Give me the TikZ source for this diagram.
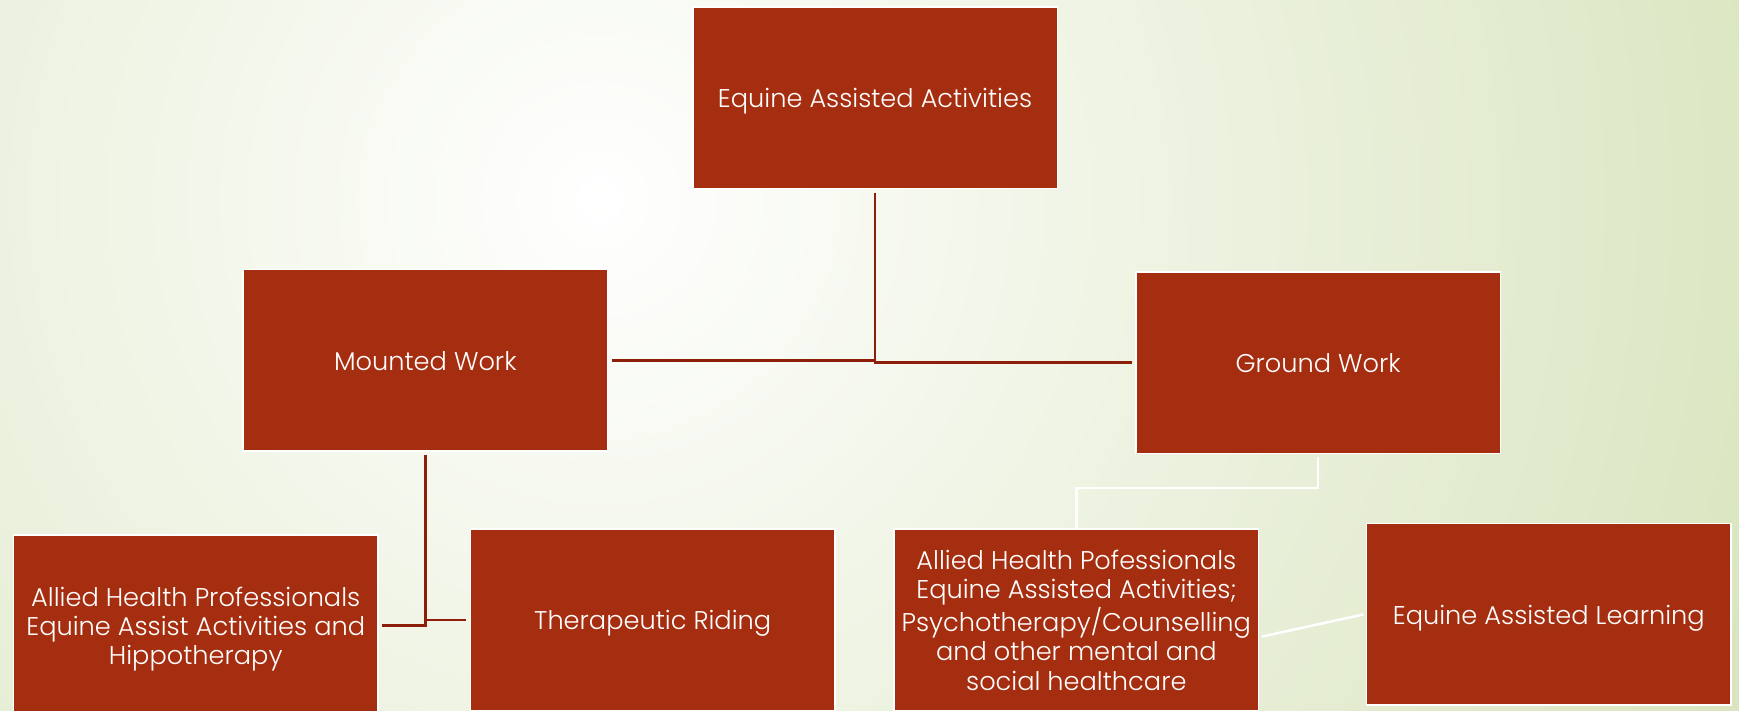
\documentclass[tikz,border=0pt]{standalone}
\usepackage{fontspec}
\setmainfont{Poppins}[UprightFont={* Light}]
\usetikzlibrary{calc}
\definecolor{boxred}{RGB}{166,46,16}
\definecolor{linered}{RGB}{140,30,10}
\definecolor{bggreen}{RGB}{218,229,192}
\newcommand{\btext}[1]{\raisebox{-3pt}[\height][\depth]{\begin{tabular}{@{}c@{}}#1\end{tabular}}}
\tikzset{
  box/.style={rectangle, fill=boxred, draw=white, line width=1.2pt,
    minimum width=263pt, minimum height=131pt, inner sep=2pt,
    text=white, align=center, font=\fontsize{18.5}{21}\selectfont},
  conn/.style={draw=linered, line width=1.8pt},
  wconn/.style={draw=white, line width=1.8pt}
}
\begin{document}
\begin{tikzpicture}[x=0.8pt,y=-0.8pt]
\useasboundingbox (0,0) rectangle (1568,641);
\begin{scope}
\clip (0,0) rectangle (1568,641);
\fill[bggreen] (0,0) rectangle (1568,641);
\shade[inner color=white, outer color=bggreen] (540,180) circle (1100);
\end{scope}
\node[box] (top) at (789,88) {\btext{Equine Assisted Activities}};
\node[box] (mounted) at (383.5,325) {\btext{Mounted Work}};
\node[box] (ground) at (1188.5,327) {\btext{Ground Work}};
\node[box] (ahpL) at (176.5,564) {\btext{Allied Health Professionals\\Equine Assist Activities and\\Hippotherapy}};
\node[box] (ther) at (588.5,559) {\btext{Therapeutic Riding}};
\node[box] (ahpR) at (970.5,559) {\btext{Allied Health Pofessionals\\Equine Assisted Activities;\\Psychotherapy/Counselling\\and other mental and\\social healthcare}};
\node[box] (eal) at (1396.5,554) {\btext{Equine Assisted Learning}};
\coordinate (gbend) at (1188.5,440);
\draw[conn, shorten <=3pt] (top.south) |- ($(mounted.east)+(3,0)$);
\draw[conn, shorten <=3pt] (top.south) |- ($(ground.west)+(-3,0)$);
\draw[conn, shorten <=2pt] (mounted.south) |- ($(ahpL.east)+(3,0)$);
\draw[conn, shorten <=2pt] (mounted.south) |- ($(ther.west)+(-3,0)$);
\draw[wconn, shorten <=2pt] (ground.south) -- (gbend) -| (ahpR.north);
\draw[wconn] ($(ahpR.east)+(2,15)$) -- ($(eal.west)+(-2,0)$);
\end{tikzpicture}
\end{document}
